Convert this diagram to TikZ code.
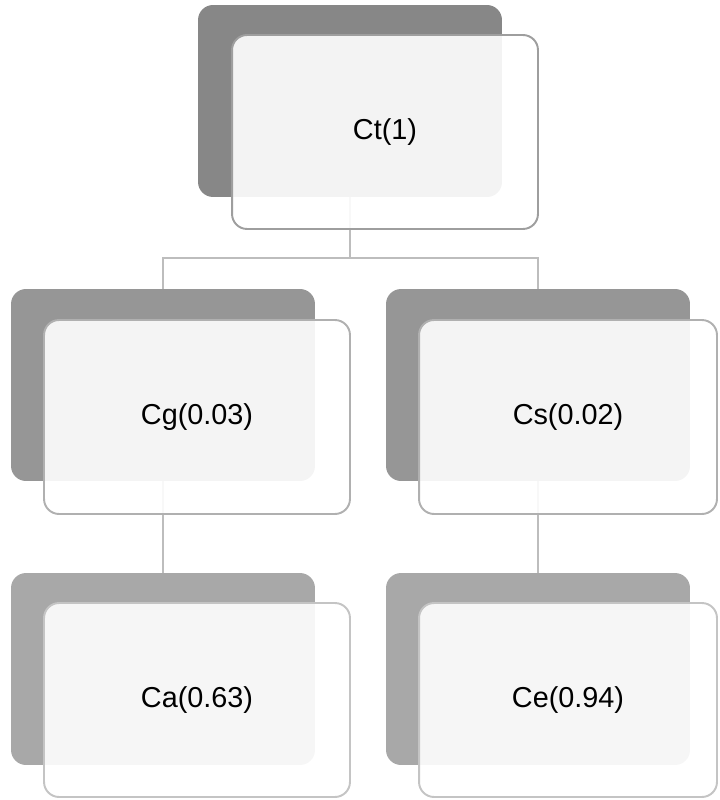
\documentclass[tikz,border=0pt]{standalone}
\usepackage{fontspec}
\setmainfont{Liberation Sans}
\definecolor{backA}{HTML}{878787}
\definecolor{backB}{HTML}{969696}
\definecolor{backC}{HTML}{A8A8A8}
\definecolor{rimA}{HTML}{9E9E9E}
\definecolor{rimB}{HTML}{B0B0B0}
\definecolor{rimC}{HTML}{C4C4C4}
\definecolor{linkgray}{HTML}{BDBDBD}
\tikzset{
  backbox/.style={rectangle, rounded corners=0.3cm, inner sep=0pt, outer sep=0pt,
    minimum width=6.08cm, minimum height=3.84cm, fill=#1},
  frontbox/.style={rectangle, rounded corners=0.3cm, inner sep=0pt, outer sep=0pt,
    minimum width=6.12cm, minimum height=3.88cm, fill=white, fill opacity=0.9,
    text opacity=1, draw=#1, line width=1.1pt,
    font=\fontsize{16.4}{20}\selectfont},
  link/.style={draw=linkgray, line width=1.1pt}
}
\begin{document}
\begin{tikzpicture}[x=0.02cm, y=-0.02cm]
  \useasboundingbox (0,0) rectangle (719,800);
  % shadow boxes
  \node[backbox=backA] (ct) at (350,101) {};
  \node[backbox=backB] (cg) at (163,385) {};
  \node[backbox=backB] (cs) at (538,385) {};
  \node[backbox=backC] (ca) at (163,669) {};
  \node[backbox=backC] (ce) at (538,669) {};
  % tree links
  \coordinate (fork) at (350,258);
  \draw[link] (ct.south) -- (fork) -| (cg.north);
  \draw[link] (fork) -| (cs.north);
  \draw[link] (cg.south) -- (ca.north);
  \draw[link] (cs.south) -- (ce.north);
  % labelled boxes
  \node[frontbox=rimA] (ctf) at (385,132) {Ct(1)};
  \node[frontbox=rimB] (cgf) at (197,417) {Cg(0.03)};
  \node[frontbox=rimB, minimum width=5.96cm] (csf) at (568,417) {Cs(0.02)};
  \node[frontbox=rimC] (caf) at (197,700) {Ca(0.63)};
  \node[frontbox=rimC, minimum width=5.96cm] (cef) at (568,700) {Ce(0.94)};
\end{tikzpicture}
\end{document}
